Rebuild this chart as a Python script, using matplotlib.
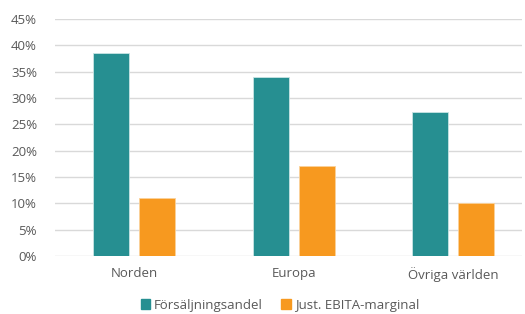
import matplotlib
matplotlib.use("Agg")
import matplotlib.pyplot as plt
from matplotlib.patches import Patch
import numpy as np

categories = ["Norden", "Europa", "Övriga världen"]
series_names = ["Försäljningsandel", "Just. EBITA-marginal"]
forsaljning = [38.6, 33.9, 27.4]
ebita = [11.0, 17.1, 10.0]
yticks = [0, 5, 10, 15, 20, 25, 30, 35, 40, 45]

teal = "#268F91"
orange = "#F7991F"

plt.rcParams['font.family'] = ['Open Sans', 'DejaVu Sans']

fig = plt.figure(figsize=(5.25, 3.14), dpi=100)
W, H = 525, 314
ax = fig.add_axes([55 / W, 1 - 256 / H, (522 - 55) / W, (256 - 19) / H])

x = np.arange(len(categories))
bw = 0.226
off = 0.144
ax.bar(x - off, forsaljning, bw, color=teal, edgecolor="#c8e4e4", linewidth=0.6, zorder=3)
ax.bar(x + off, ebita, bw, color=orange, edgecolor="#fbd29a", linewidth=0.6, zorder=3)

ax.set_ylim(0, 45)
ax.set_xlim(-0.495, 2.43)
ax.set_yticks(yticks)
ax.set_yticklabels([f"{v}%" for v in yticks])
ax.set_xticks(x)
ax.set_xticklabels(categories)
ax.yaxis.grid(True, color="#d9d9d9", linewidth=1.0, zorder=0)
ax.set_axisbelow(True)
for s in ax.spines.values():
    s.set_visible(False)
ax.tick_params(axis='both', length=0, labelsize=9.5, labelcolor="#595959")
ax.tick_params(axis='y', pad=13)
ax.tick_params(axis='x', pad=8)

handles = [Patch(color=teal), Patch(color=orange)]
fig.legend(handles, series_names, loc="center", bbox_to_anchor=(280 / W, 1 - 305 / H),
           ncol=2, frameon=False, fontsize=9.5, labelcolor="#595959",
           handlelength=0.7, handleheight=0.7, handletextpad=0.3, columnspacing=1.4)

fig.savefig("out.png", dpi=100)
